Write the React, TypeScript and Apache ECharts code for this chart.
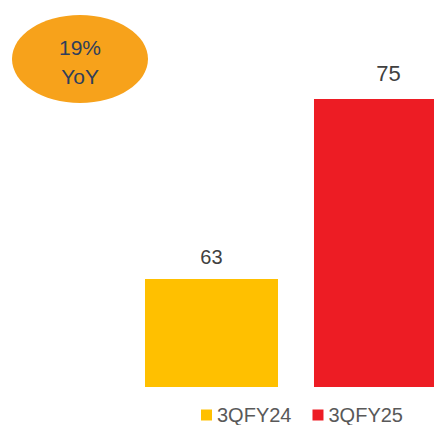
import React, { useEffect, useRef } from "react";
import * as echarts from "echarts";

const seriesNames = ["3QFY24", "3QFY25"];
const positions = [1, 2];
const values = [63, 75];
const colors = ["#FFC000", "#ED1C24"];
const badgeLines = ["19%", "YoY"];

export default function App() {
  const ref = useRef<HTMLDivElement>(null);
  useEffect(() => {
    if (!ref.current) return;
    const chart = echarts.init(ref.current, null, { renderer: "svg" });
    chart.setOption({
      animation: false,
      grid: { left: 0, top: 99, right: 0, bottom: 38 },
      xAxis: { type: "value", min: -0.2515, max: 2.3166, show: false },
      yAxis: { type: "value", min: 55.8, max: 75, show: false },
      legend: {
        data: seriesNames,
        left: 196,
        top: 400,
        itemWidth: 11,
        itemHeight: 11,
        itemGap: 21,
        icon: "rect",
        textStyle: { color: "#595959", fontSize: 20, fontFamily: "Liberation Sans" },
      },
      series: seriesNames.map((name, i) => ({
        name,
        type: "bar",
        barWidth: 133,
        barGap: "-100%",
        itemStyle: { color: colors[i] },
        data: [[positions[i], values[i]]],
        label: {
          show: true,
          position: "top",
          distance: i === 0 ? 12 : 15,
          offset: i === 0 ? [0, 0] : [8, 0],
          color: "#404040",
          fontSize: i === 0 ? 20 : 22,
          fontFamily: "Liberation Sans",
          formatter: (p: any) => String(p.value[1]),
        },
      })),
      graphic: [
        {
          type: "ellipse",
          shape: { cx: 80, cy: 59, rx: 68, ry: 44 },
          style: { fill: "#F7A21B" },
        },
        {
          type: "text",
          x: 80,
          y: 47,
          style: {
            text: badgeLines[0],
            fill: "#2F3E5B",
            fontSize: 21,
            fontFamily: "Liberation Sans",
            align: "center",
            verticalAlign: "middle",
          },
        },
        {
          type: "text",
          x: 80,
          y: 76,
          style: {
            text: badgeLines[1],
            fill: "#2F3E5B",
            fontSize: 21,
            fontFamily: "Liberation Sans",
            align: "center",
            verticalAlign: "middle",
          },
        },
      ],
    });
    return () => chart.dispose();
  }, []);
  return <div ref={ref} style={{ width: 434, height: 425, position: "absolute", left: 0, top: 0 }} />;
}
